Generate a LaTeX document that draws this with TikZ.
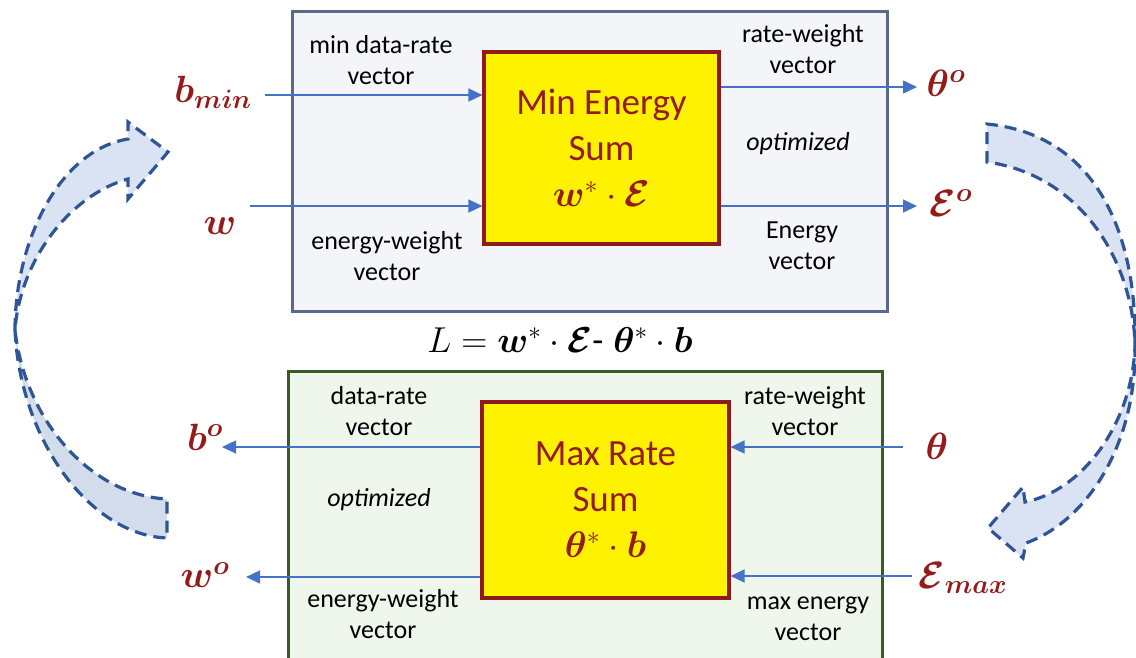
\documentclass[tikz,border=0pt]{standalone}
\usepackage{fix-cm}
\usepackage{amsmath}
\usepackage{bm}
\usepackage{fontspec}
\setmainfont{Carlito}
\usetikzlibrary{arrows.meta}
\definecolor{dred}{HTML}{951B1B}
\definecolor{boxred}{HTML}{8E1B1B}
\definecolor{cblue}{HTML}{4472C4}
\definecolor{topfill}{HTML}{F4F5F8}
\definecolor{topborder}{HTML}{5A6A88}
\definecolor{botfill}{HTML}{EFF6EB}
\definecolor{botborder}{HTML}{3B5B25}
\definecolor{arrblue}{HTML}{2F5597}
\definecolor{arrfillA}{HTML}{DAE3F3}
\definecolor{arrfillB}{HTML}{D3DCEA}
\begin{document}
\begin{tikzpicture}[x=1pt,y=-1pt,
  conn/.style={draw=cblue, line width=1.5pt, -{Triangle[length=14pt,width=13pt]}},
  lbl/.style={font=\fontsize{26}{31}\selectfont, align=center, text=black, inner sep=0pt},
  ilbl/.style={font=\fontsize{26}{31}\selectfont\itshape, text=black, inner sep=0pt},
  mlbl/.style={font=\fontsize{38}{45}\selectfont, text=dred, inner sep=0pt},
  ybox/.style={draw=boxred, line width=3.2pt, fill=yellow, text=dred, align=center,
    font=\fontsize{37}{46}\selectfont, inner sep=0pt},
  outerbox/.style={line width=2.8pt, inner sep=0pt, anchor=north west},
  curvedarrow/.style={draw=arrblue, line width=3.2pt, dash pattern=on 12pt off 7pt, line join=miter}
]
\clip (0,0) rectangle (1136,657);

% outer boxes
\node[outerbox, draw=topborder, fill=topfill, minimum width=595pt, minimum height=300pt] (topbox) at (291,10) {};
\node[outerbox, draw=botborder, fill=botfill, minimum width=594pt, minimum height=320pt] (botbox) at (287,370) {};

% yellow boxes
\node[ybox, minimum width=235pt, minimum height=192pt] (ytop) at (601.5,148)
  {Min Energy\\Sum\\$\bm{w}^{*}\cdot\bm{\mathcal{E}}$};
\node[ybox, minimum width=247pt, minimum height=196pt] (ybot) at (605.5,500)
  {Max Rate\\Sum\\$\bm{\theta}^{*}\cdot\bm{b}$};

% equation
\node[font=\fontsize{36}{43}\selectfont] (eq) at (560,340)
  {$L=\bm{w}^{*}\cdot\bm{\mathcal{E}}\text{-}\;\bm{\theta}^{*}\cdot\bm{b}$};

% math labels
\node[mlbl] (bmin) at (213,92) {$\bm{b_{min}}$};
\node[mlbl] (w) at (220,226) {$\bm{w}$};
\node[mlbl] (thetao) at (946,83) {$\bm{\theta^{o}}$};
\node[mlbl] (Eo) at (951,203) {$\bm{\mathcal{E}^{o}}$};
\node[mlbl] (bo) at (205,437) {$\bm{b^{o}}$};
\node[mlbl] (wo) at (205,575) {$\bm{w^{o}}$};
\node[mlbl] (theta) at (937,446) {$\bm{\theta}$};
\node[mlbl] (Emax) at (963,578) {$\bm{\mathcal{E}_{max}}$};

% text labels
\node[lbl] (l1) at (381,60) {min data-rate\\vector};
\node[lbl] (l2) at (803,49) {rate-weight\\vector};
\node[ilbl] (l3) at (798,144) {optimized};
\node[lbl] (l4) at (387,256) {energy-weight\\vector};
\node[lbl] (l5) at (802,246) {Energy\\vector};
\node[lbl] (l6) at (379,411) {data-rate\\vector};
\node[lbl] (l7) at (805,411) {rate-weight\\vector};
\node[ilbl] (l8) at (379,500) {optimized};
\node[lbl] (l9) at (383,614) {energy-weight\\vector};
\node[lbl] (l10) at (808,619) {max energy\\vector};

% connectors
\coordinate (bminS) at (265,95);
\draw[conn] (bminS) -- (bminS -| ytop.west);
\coordinate (wS) at (250,206);
\draw[conn] (wS) -- (wS -| ytop.west);
\coordinate (thoE) at (917,87);
\draw[conn] (thoE -| ytop.east) -- (thoE);
\coordinate (EoE) at (917,206);
\draw[conn] (EoE -| ytop.east) -- (EoE);
\coordinate (boE) at (222,447);
\draw[conn] (boE -| ybot.west) -- (boE);
\coordinate (woE) at (246,577);
\draw[conn] (woE -| ybot.west) -- (woE);
\coordinate (thS) at (903,447);
\draw[conn] (thS) -- (thS -| ybot.east);
\coordinate (EmS) at (912,576);
\draw[conn] (EmS) -- (EmS -| ybot.east);

% left curved arrow
\path[curvedarrow, fill=arrfillB] (15,330) .. controls (20,440) and (90,535) .. (167,538)
  -- (167,499) .. controls (90,495) and (25,420) .. (15,330) -- cycle;
\path[curvedarrow, fill=arrfillA] (15,330) .. controls (15,240) and (60,150) .. (128,139)
  -- (128,122) -- (168,152) -- (128,199) -- (128,179)
  .. controls (70,195) and (20,260) .. (15,330) -- cycle;

% right curved arrow
\path[curvedarrow, fill=arrfillA] (1135,345) .. controls (1137,240) and (1100,135) .. (987,124)
  -- (987,162) .. controls (1080,175) and (1133,260) .. (1135,345) -- cycle;
\path[curvedarrow, fill=arrfillA] (1135,345) .. controls (1137,440) and (1090,520) .. (1026,543)
  -- (1023,558) -- (988,528) -- (1023,487) -- (1025,502)
  .. controls (1085,490) and (1133,420) .. (1135,345) -- cycle;
\end{tikzpicture}
\end{document}
